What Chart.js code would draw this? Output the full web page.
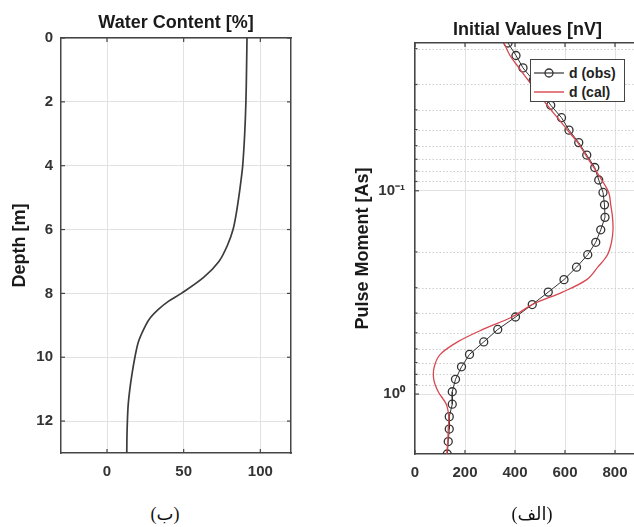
<!DOCTYPE html>
<html>
<head>
<meta charset="utf-8">
<script src="https://cdn.jsdelivr.net/npm/chart.js@4.4.1/dist/chart.umd.min.js"></script>
<style>
html,body{margin:0;padding:0;background:#fff;width:634px;height:527px;overflow:hidden;}
#wrap{position:relative;width:634px;height:527px;overflow:hidden;background:#fff;}
#c1{position:absolute;left:0;top:0;}
#c2{position:absolute;left:317px;top:0;}
#legend{position:absolute;left:530px;top:59px;width:95px;height:43px;border:1px solid #444;background:#fff;
  font:bold 14px "Liberation Sans",Arial,sans-serif;color:#222;box-sizing:border-box;}
#legend .row{position:absolute;left:2px;height:18px;display:flex;align-items:center;white-space:nowrap;}
.cap{position:absolute;width:100px;text-align:center;font-family:"Liberation Serif","DejaVu Sans",serif;font-size:18px;line-height:22px;color:#111;}
</style>
</head>
<body>
<div id="wrap">
  <canvas id="c1" width="352" height="500"></canvas>
  <canvas id="c2" width="421" height="500"></canvas>
  <div id="legend"></div>
  <div class="cap" dir="rtl" style="left:115px;top:503px;">(ب)</div>
  <div class="cap" dir="rtl" style="left:482px;top:503px;">(الف)</div>
</div>
<script>
// ---------- data: left panel (water content profile) ----------
const depthM   = [0, 1, 2, 3, 4, 4.5, 5, 5.5, 6, 6.5, 7, 7.5, 8, 8.25, 8.5, 8.75, 9, 9.5, 10, 10.5, 11, 11.5, 12, 12.5, 13];
const waterPct = [91.3, 91.0, 90.6, 89.8, 88.5, 87.3, 85.9, 84.3, 82.2, 78.5, 73.0, 63.0, 48.5, 40.0, 33.5, 28.5, 25.2, 20.6, 18.2, 16.4, 14.9, 13.8, 13.3, 13.0, 12.9];
const waterTicks = [0, 50, 100];
const depthTicks = [0, 2, 4, 6, 8, 10, 12];

// ---------- data: right panel (initial values vs pulse moment) ----------
const pulseMomentAs = [0.01875, 0.0216, 0.02486, 0.02862, 0.03296, 0.03796, 0.0437, 0.05032, 0.05795, 0.06673,
  0.07684, 0.08851, 0.1019, 0.1173, 0.1351, 0.1556, 0.1792, 0.2063, 0.2376, 0.2736,
  0.3151, 0.3628, 0.4178, 0.4811, 0.554, 0.638, 0.7345, 0.8459, 0.9741, 1.1215,
  1.2915, 1.4871, 1.7128, 1.972];
const obsNV = [372, 404, 432, 473, 509, 543, 586, 616, 655, 687,
  719, 735, 752, 758, 760, 743, 723, 691, 646, 596,
  533, 469, 402, 331, 275, 218, 186, 162, 149, 149,
  137, 137, 133, 129];
const calNV = [356, 380, 416, 453, 493, 529, 570, 610, 651, 683,
  715, 747, 775, 783, 790, 792, 786, 770, 731, 687,
  590, 469, 388, 271, 170, 101, 77, 75, 93, 125,
  135, 133, 131, 127];
const seriesNames = ['d (obs)', 'd (cal)'];
const nvTicks = [0, 200, 400, 600, 800];
const pulseTicks = [0.1, 1];
const pulseTickLabels = ['10\u207B\u00B9', '10\u2070'];
const pulseMinor = [0.02, 0.03, 0.04, 0.05, 0.06, 0.07, 0.08, 0.09, 0.2, 0.3, 0.4, 0.5, 0.6, 0.7, 0.8, 0.9];

// ---------- styling ----------
const FONT = '"Liberation Sans", Arial, Helvetica, sans-serif';
const TICK_C = '#333333';
const TITLE_C = '#1a1a1a';
const GRID_C = '#e2e2e2';
const AX_C = '#454545';
const tickFont = {family: FONT, size: 15, weight: 'bold'};
const titleFont = {family: FONT, size: 18, weight: 'bold'};

const fixedTicks = vals => scale => { scale.ticks = vals.map(v => ({value: v})); };
const setWidth = w => scale => { scale.width = w; };
const setHeight = h => scale => { scale.height = h; };

const minorGridPlugin = {
  id: 'minorGrid',
  beforeDatasetsDraw(chart, args, opts) {
    if (!opts || !opts.values) return;
    const {ctx, chartArea: a} = chart;
    const s = chart.scales[opts.axis];
    ctx.save();
    ctx.strokeStyle = opts.color;
    ctx.lineWidth = 1;
    ctx.setLineDash(opts.dash);
    opts.values.forEach(v => {
      const y = Math.round(s.getPixelForValue(v)) + 0.5;
      if (y < a.top || y > a.bottom) return;
      ctx.beginPath(); ctx.moveTo(a.left, y); ctx.lineTo(a.right, y); ctx.stroke();
    });
    ctx.restore();
  }
};

const boxTicksPlugin = {
  id: 'boxTicks',
  afterDraw(chart, args, opts) {
    const {ctx, chartArea: a} = chart;
    const xs = chart.scales.x, ys = chart.scales.y;
    const L = 4;
    ctx.save();
    ctx.strokeStyle = opts.color || AX_C;
    ctx.lineWidth = 1.2;
    const seg = (x1, y1, x2, y2) => { ctx.beginPath(); ctx.moveTo(x1, y1); ctx.lineTo(x2, y2); ctx.stroke(); };
    xs.ticks.forEach(t => {
      const x = xs.getPixelForValue(t.value);
      seg(x, a.bottom, x, a.bottom - L);
      seg(x, a.top, x, a.top + L);
    });
    ys.ticks.forEach(t => {
      const y = ys.getPixelForValue(t.value);
      seg(a.left, y, a.left + L, y);
      seg(a.right, y, a.right - L, y);
    });
    (opts.minorY || []).forEach(v => {
      const y = ys.getPixelForValue(v);
      if (y < a.top || y > a.bottom) return;
      seg(a.left, y, a.left + 2.5, y);
      seg(a.right, y, a.right - 2.5, y);
    });
    ctx.restore();
  }
};

// ---------- left chart ----------
new Chart(document.getElementById('c1'), {
  type: 'scatter',
  data: {
    datasets: [{
      label: 'Water Content',
      data: depthM.map((d, i) => ({x: waterPct[i], y: d})),
      showLine: true,
      borderColor: '#3c3c3c',
      borderWidth: 1.7,
      pointRadius: 0,
      tension: 0.3,
      fill: false
    }]
  },
  options: {
    responsive: false,
    animation: false,
    layout: {padding: 0},
    plugins: {
      legend: {display: false},
      tooltip: {enabled: false},
      title: {display: true, text: 'Water Content [%]', font: titleFont, color: TITLE_C, padding: {top: 12, bottom: 4.4}},
      boxTicks: {color: AX_C}
    },
    scales: {
      x: {type: 'linear', position: 'bottom', min: -30, max: 120,
        afterBuildTicks: fixedTicks(waterTicks), afterFit: setHeight(47),
        ticks: {font: tickFont, color: TICK_C, padding: 10, maxRotation: 0, autoSkip: false},
        grid: {color: GRID_C, lineWidth: 1, drawTicks: false},
        border: {color: AX_C, width: 1.5}},
      x2: {type: 'linear', position: 'top', min: -30, max: 120,
        afterBuildTicks: fixedTicks(waterTicks), afterFit: setHeight(0),
        ticks: {display: false}, grid: {drawOnChartArea: false, drawTicks: false},
        border: {color: AX_C, width: 1.5}},
      y: {type: 'linear', position: 'left', reverse: true, min: 0, max: 13,
        afterBuildTicks: fixedTicks(depthTicks), afterFit: setWidth(61),
        ticks: {font: tickFont, color: TICK_C, padding: 8, autoSkip: false},
        grid: {color: GRID_C, lineWidth: 1, drawTicks: false},
        border: {color: AX_C, width: 1.5},
        title: {display: true, text: 'Depth [m]', font: titleFont, color: TITLE_C, padding: {top: 9, bottom: 0}}},
      y2: {type: 'linear', position: 'right', reverse: true, min: 0, max: 13,
        afterBuildTicks: fixedTicks(depthTicks), afterFit: setWidth(61),
        ticks: {display: false}, grid: {drawOnChartArea: false, drawTicks: false},
        border: {color: AX_C, width: 1.5}}
    }
  },
  plugins: [boxTicksPlugin]
});

// ---------- right chart ----------
const chart2 = new Chart(document.getElementById('c2'), {
  type: 'scatter',
  data: {
    datasets: [{
      label: seriesNames[0],
      data: pulseMomentAs.map((q, i) => ({x: obsNV[i], y: q})),
      showLine: true,
      borderColor: '#333333',
      borderWidth: 1,
      pointRadius: 4,
      pointBorderWidth: 1.3,
      pointBorderColor: '#333333',
      pointBackgroundColor: 'rgba(0,0,0,0)',
      tension: 0,
      order: 2
    }, {
      label: seriesNames[1],
      data: pulseMomentAs.map((q, i) => ({x: calNV[i], y: q})),
      showLine: true,
      borderColor: '#d8474f',
      borderWidth: 1.3,
      pointRadius: 0,
      tension: 0.35,
      order: 1
    }]
  },
  options: {
    responsive: false,
    animation: false,
    layout: {padding: 0},
    plugins: {
      legend: {display: false},
      tooltip: {enabled: false},
      title: {display: true, text: 'Initial Values [nV]', font: titleFont, color: TITLE_C, padding: {top: 19.2, bottom: 2.2}},
      minorGrid: {axis: 'y', values: pulseMinor, color: '#cdcdcd', dash: [1.5, 2]},
      boxTicks: {color: AX_C, minorY: pulseMinor}
    },
    scales: {
      x: {type: 'linear', position: 'bottom', min: 0, max: 900,
        afterBuildTicks: fixedTicks(nvTicks), afterFit: setHeight(46),
        ticks: {font: tickFont, color: TICK_C, padding: 10, maxRotation: 0, autoSkip: false},
        grid: {color: GRID_C, lineWidth: 1, drawTicks: false},
        border: {color: AX_C, width: 1.5}},
      x2: {type: 'linear', position: 'top', min: 0, max: 900,
        afterBuildTicks: fixedTicks(nvTicks), afterFit: setHeight(0),
        ticks: {display: false}, grid: {drawOnChartArea: false, drawTicks: false},
        border: {color: AX_C, width: 1.5}},
      y: {type: 'logarithmic', position: 'left', reverse: true,
        min: pulseMomentAs[0], max: pulseMomentAs[pulseMomentAs.length - 1],
        afterBuildTicks: fixedTicks(pulseTicks), afterFit: setWidth(98),
        ticks: {font: tickFont, color: TICK_C, padding: 10, autoSkip: false,
          callback: v => { const i = pulseTicks.indexOf(v); return i >= 0 ? pulseTickLabels[i] : ''; }},
        grid: {color: GRID_C, lineWidth: 1, drawTicks: false},
        border: {color: AX_C, width: 1.5},
        title: {display: true, text: 'Pulse Moment [As]', font: titleFont, color: TITLE_C, padding: {top: 35, bottom: 0}}},
      y2: {type: 'logarithmic', position: 'right', reverse: true,
        min: pulseMomentAs[0], max: pulseMomentAs[pulseMomentAs.length - 1],
        afterBuildTicks: fixedTicks(pulseTicks), afterFit: setWidth(98),
        ticks: {display: false}, grid: {drawOnChartArea: false, drawTicks: false},
        border: {color: AX_C, width: 1.5}}
    }
  },
  plugins: [minorGridPlugin, boxTicksPlugin]
});

// ---------- legend (built from the chart's datasets) ----------
(function buildLegend() {
  const lg = document.getElementById('legend');
  const ds = chart2.data.datasets;
  ds.forEach((d, i) => {
    const row = document.createElement('div');
    row.className = 'row';
    row.style.top = (i === 0 ? 4 : 23) + 'px';
    const hasMarker = d.pointRadius > 0;
    row.innerHTML =
      '<svg width="32" height="12" style="display:block">' +
      '<line x1="1" y1="6" x2="31" y2="6" stroke="' + d.borderColor + '" stroke-width="' + (hasMarker ? 1.2 : 1.4) + '"/>' +
      (hasMarker ? '<circle cx="16" cy="6" r="4" fill="none" stroke="' + d.pointBorderColor + '" stroke-width="1.3"/>' : '') +
      '</svg><span style="margin-left:4px">' + d.label + '</span>';
    lg.appendChild(row);
  });
})();
</script>
</body>
</html>
